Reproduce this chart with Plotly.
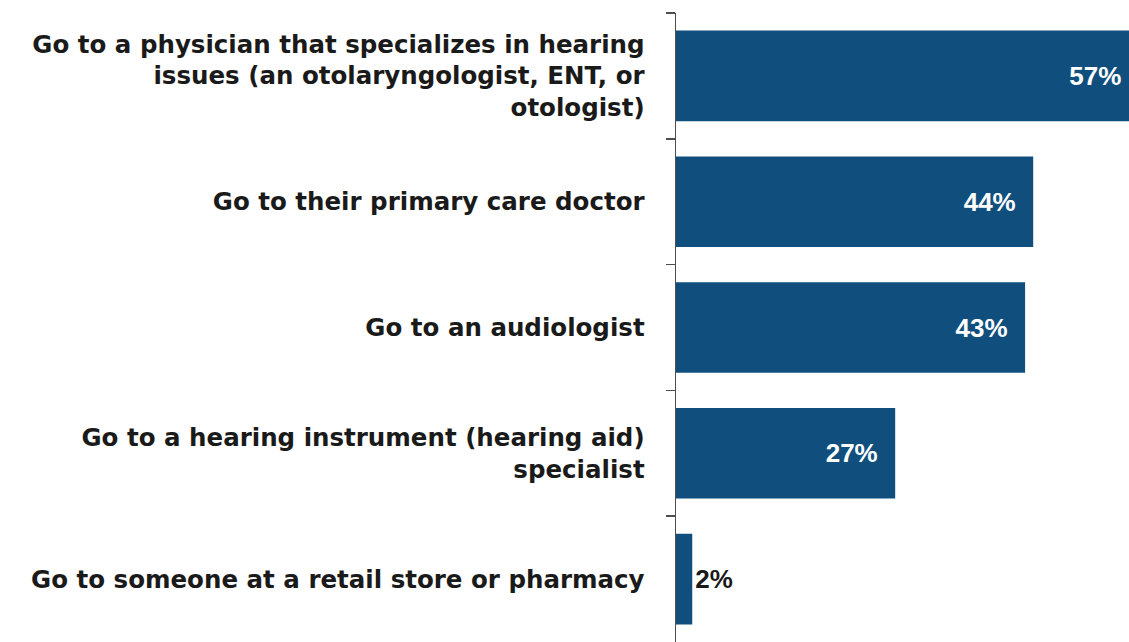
import plotly.graph_objects as go

categories = [
    "Go to a physician that specializes in hearing<br>issues (an otolaryngologist, ENT, or<br>otologist)",
    "Go to their primary care doctor",
    "Go to an audiologist",
    "Go to a hearing instrument (hearing aid)<br>specialist",
    "Go to someone at a retail store or pharmacy",
]
values = [57, 44, 43, 27, 2]

PAD = "\u00a0\u00a0"
texts = [f"{v}%{PAD}" if v >= 10 else f"{v}%" for v in values]
positions = ["inside" if v >= 10 else "outside" for v in values]

VAL_FONT = "Liberation Sans, Arial"
LAB_FONT = "DejaVu Sans"

fig = go.Figure(
    go.Bar(
        x=values,
        y=categories,
        orientation="h",
        marker=dict(color="#104F7D", line=dict(width=0)),
        text=texts,
        textposition=positions,
        insidetextanchor="end",
        insidetextfont=dict(family=VAL_FONT, size=26, color="white", weight="bold"),
        outsidetextfont=dict(family=VAL_FONT, size=26, color="#1a1a1a", weight="bold"),
        textangle=0,
        cliponaxis=True,
        hoverinfo="skip",
    )
)

fig.update_layout(
    width=1129,
    height=642,
    margin=dict(l=676, r=0, t=13, b=0),
    paper_bgcolor="white",
    plot_bgcolor="white",
    bargap=0.28,
    showlegend=False,
    font=dict(family=LAB_FONT, color="#1a1a1a"),
)
fig.update_xaxes(range=[0, 55.8], visible=False, showgrid=False, zeroline=False)
fig.update_yaxes(
    autorange="reversed",
    type="category",
    showline=True,
    linecolor="#4d4d4d",
    linewidth=1.5,
    ticks="outside",
    tickson="boundaries",
    ticklen=9,
    tickcolor="#4d4d4d",
    tickwidth=1.5,
    ticklabelstandoff=25,
    tickfont=dict(family=LAB_FONT, size=24.5, color="#1a1a1a", weight="bold"),
    showgrid=False,
    zeroline=False,
)

fig.write_html(
    "out.html",
    config={"displayModeBar": False, "staticPlot": True},
    post_script="document.body.style.margin='0';document.body.style.overflow='hidden';",
)
